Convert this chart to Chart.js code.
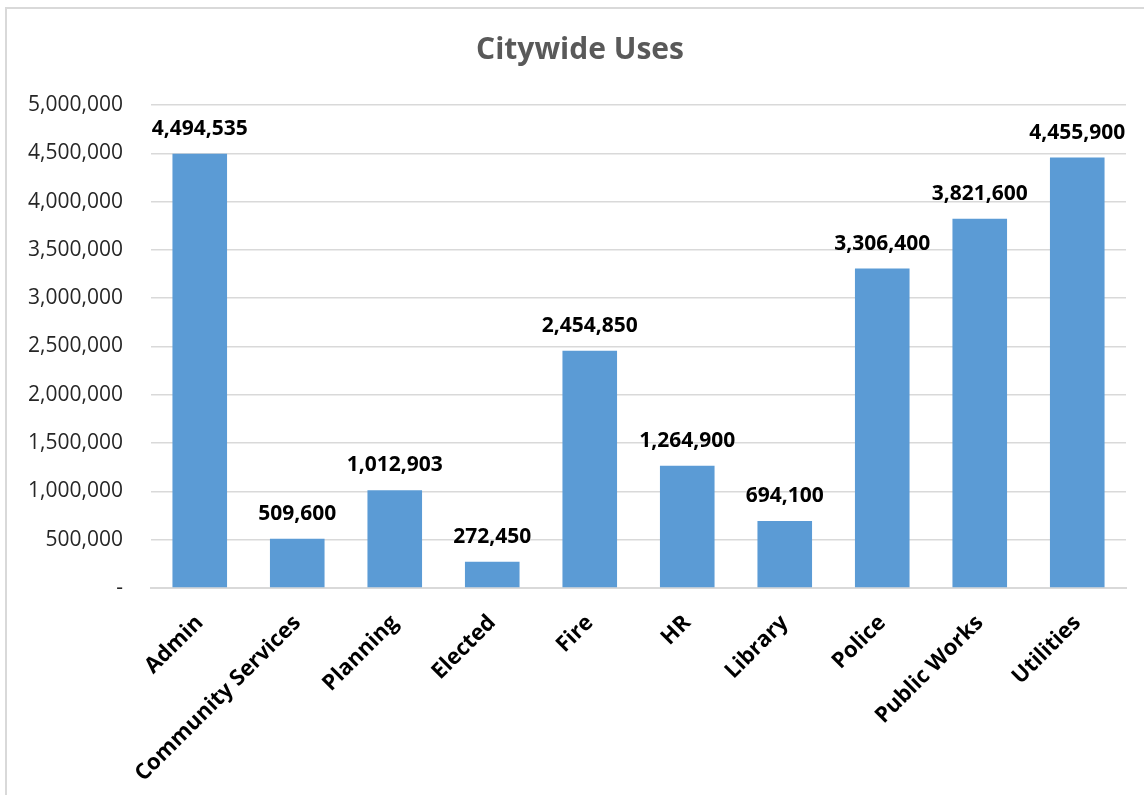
<!DOCTYPE html>
<html>
<head>
<meta charset="utf-8">
<script src="https://cdn.jsdelivr.net/npm/chart.js@4/dist/chart.umd.min.js"></script>
<style>
  html, body { margin: 0; padding: 0; background: #fff; overflow: hidden; }
  #frame {
    position: absolute; left: 5px; top: 7px;
    width: 1150px; height: 800px;
    border: 2px solid #d9d9d9; box-sizing: border-box;
  }
  #wrap { position: absolute; left: 0; top: 0; width: 1144px; height: 795px; }
</style>
</head>
<body>
<div id="frame"></div>
<div id="wrap"><canvas id="usesChart"></canvas></div>
<script>
"use strict";

// ── Data ──────────────────────────────────────────────────
const chartTitle  = "Citywide Uses";
const departments = ["Admin", "Community Services", "Planning", "Elected", "Fire",
                     "HR", "Library", "Police", "Public Works", "Utilities"];
const uses        = [4494535, 509600, 1012903, 272450, 2454850,
                     1264900, 694100, 3306400, 3821600, 4455900];
const yTicks      = [0, 500000, 1000000, 1500000, 2000000, 2500000,
                     3000000, 3500000, 4000000, 4500000, 5000000];

const FONT = "'Open Sans', 'Liberation Sans', sans-serif";
const fmt  = v => v === 0 ? "-" : v.toLocaleString("en-US");

// ── Title (centred over the whole frame, not the plot) ────
const frameTitle = {
  id: "frameTitle",
  afterDraw(chart) {
    const c = chart.ctx;
    c.save();
    c.font = "bold 30px " + FONT;
    c.fillStyle = "#595959";
    c.textAlign = "center";
    c.textBaseline = "middle";
    c.fillText(chartTitle, 580, 50);
    c.restore();
  },
};

// ── Value labels above bars ───────────────────────────────
const barLabels = {
  id: "barLabels",
  afterDatasetsDraw(chart) {
    const c = chart.ctx;
    const meta = chart.getDatasetMeta(0);
    c.save();
    c.font = "bold 21px " + FONT;
    c.fillStyle = "#000";
    c.textAlign = "center";
    c.textBaseline = "middle";
    meta.data.forEach((bar, i) => {
      c.fillText(fmt(uses[i]), bar.x, bar.y - 25);
    });
    c.restore();
  },
};

const ctx = document.getElementById("usesChart").getContext("2d");

new Chart(ctx, {
  type: "bar",
  data: {
    labels: departments,
    datasets: [{
      data: uses,
      backgroundColor: "#5b9bd5",
      barPercentage: 0.56,
      categoryPercentage: 1,
    }],
  },
  options: {
    responsive: true,
    maintainAspectRatio: false,
    animation: false,
    layout: { padding: { left: 0, right: 18, top: 105, bottom: 7 } },
    plugins: {
      legend: { display: false },
      tooltip: { enabled: false },
      title: { display: false },
    },
    scales: {
      x: {
        grid: { display: false },
        border: { color: "#d9d9d9", width: 2 },
        ticks: {
          color: "#000",
          font: { family: FONT, size: 22, weight: "bold" },
          minRotation: 45,
          maxRotation: 45,
          padding: 14,
          autoSkip: false,
        },
        afterFit: scale => { scale.height = 200; },
      },
      y: {
        min: 0,
        max: 5000000,
        grid: { color: "#d9d9d9", lineWidth: 1.5, drawTicks: false },
        border: { display: false },
        afterBuildTicks: scale => { scale.ticks = yTicks.map(v => ({ value: v })); },
        ticks: {
          color: "#262626",
          font: { family: FONT, size: 21 },
          padding: 28,
          callback: v => fmt(v),
        },
        afterFit: scale => { scale.width = 151; },
      },
    },
  },
  plugins: [barLabels, frameTitle],
});
</script>
</body>
</html>
